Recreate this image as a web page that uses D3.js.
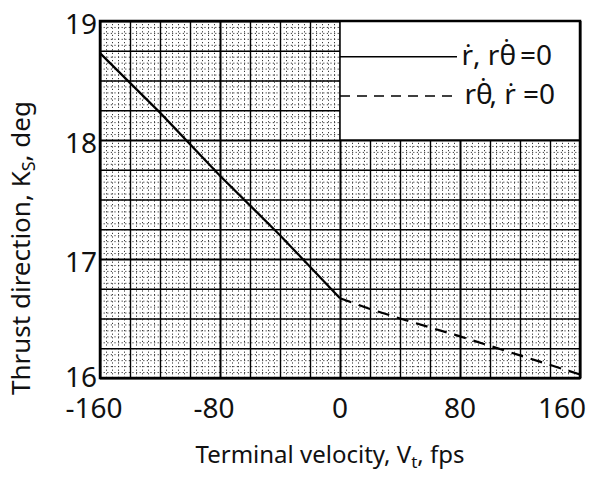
<!DOCTYPE html>
<html>
<head>
<meta charset="utf-8">
<script src="https://cdn.jsdelivr.net/npm/d3@7"></script>
<style>
  body { margin: 0; background: #fff; }
  svg text { font-family: "Noto Sans", "DejaVu Sans", sans-serif; fill: #111; }
</style>
</head>
<body>
<script>
var width = 609;
var height = 478;

var margin = {top: 21, left: 100, right: 29, bottom: 100};

// data
var velocity   = [-160, -140, -120, -80, -40, 0];
var thrustRdot = [18.73, 18.48, 18.23, 17.70, 17.20, 16.67];   // r-dot, r theta-dot = 0

var velocity2   = [0, 20, 40, 80, 120, 160];
var thrustTheta = [16.67, 16.58, 16.50, 16.35, 16.19, 16.03];  // r theta-dot, r-dot = 0

var xTicks = [-160, -80, 0, 80, 160];
var yTicks = [16, 17, 18, 19];

var svg = d3.select("body")
  .append("svg")
  .attr("width", width)
  .attr("height", height);

var xScale = d3.scaleLinear()
  .domain([-160, 160])
  .range([margin.left, width - margin.right]);

var yScale = d3.scaleLinear()
  .domain([16, 19])
  .range([height - margin.bottom, margin.top]);

var plotW = xScale(160) - xScale(-160);
var plotH = yScale(16) - yScale(19);

// graph paper: minor dotted grid
function minorStyle(g) {
  g.select(".domain").remove();
  g.selectAll("line").attr("stroke", "#222").attr("stroke-width", 0.9).attr("stroke-dasharray", "1.2,2.4");
}

svg.append("g")
  .attr("transform", "translate(0," + yScale(16) + ")")
  .call(d3.axisBottom(xScale).tickValues(d3.range(-160, 161, 4)).tickSize(-plotH).tickFormat(""))
  .call(minorStyle);

svg.append("g")
  .attr("transform", "translate(" + xScale(-160) + ",0)")
  .call(d3.axisLeft(yScale).tickValues(d3.range(0, 61).map(function(i) { return 16 + i * 0.05; })).tickSize(-plotW).tickFormat(""))
  .call(minorStyle);

// major grid
svg.append("g")
  .attr("transform", "translate(0," + yScale(16) + ")")
  .call(d3.axisBottom(xScale).tickValues(d3.range(-160, 161, 20)).tickSize(-plotH).tickFormat(""))
  .call(function(g) {
    g.select(".domain").remove();
    g.selectAll("line").attr("stroke", "#000")
      .attr("stroke-width", function(d) { return d % 80 === 0 ? 2 : 1.4; });
  });

svg.append("g")
  .attr("transform", "translate(" + xScale(-160) + ",0)")
  .call(d3.axisLeft(yScale).tickValues(d3.range(0, 13).map(function(i) { return 16 + i * 0.25; })).tickSize(-plotW).tickFormat(""))
  .call(function(g) {
    g.select(".domain").remove();
    g.selectAll("line").attr("stroke", "#000")
      .attr("stroke-width", function(d) { return Math.abs(d - Math.round(d)) < 0.01 ? 2 : 1.4; });
  });

// legend box (white patch in the upper right)
svg.append("rect")
  .attr("x", xScale(0))
  .attr("y", yScale(19))
  .attr("width", xScale(160) - xScale(0))
  .attr("height", yScale(18) - yScale(19))
  .attr("fill", "#fff")
  .attr("stroke", "#000")
  .attr("stroke-width", 1.5);

// frame
svg.append("rect")
  .attr("x", xScale(-160))
  .attr("y", yScale(19))
  .attr("width", plotW)
  .attr("height", plotH)
  .attr("fill", "none")
  .attr("stroke", "#000")
  .attr("stroke-width", 2.5);

// curves
var line = d3.line()
  .x(function(d) { return xScale(d[0]); })
  .y(function(d) { return yScale(d[1]); });

svg.append("path")
  .datum(d3.zip(velocity, thrustRdot))
  .attr("d", line)
  .attr("fill", "none")
  .attr("stroke", "#000")
  .attr("stroke-width", 2.2);

svg.append("path")
  .datum(d3.zip(velocity2, thrustTheta))
  .attr("d", line)
  .attr("fill", "none")
  .attr("stroke", "#000")
  .attr("stroke-width", 2.2)
  .attr("stroke-dasharray", "12,8");

// legend entries
var legend = svg.append("g");
legend.append("line")
  .attr("x1", xScale(0)).attr("x2", xScale(78))
  .attr("y1", yScale(18.70)).attr("y2", yScale(18.70))
  .attr("stroke", "#000").attr("stroke-width", 1.5);
legend.append("line")
  .attr("x1", xScale(0)).attr("x2", xScale(77))
  .attr("y1", yScale(18.37)).attr("y2", yScale(18.37))
  .attr("stroke", "#000").attr("stroke-width", 1.5)
  .attr("stroke-dasharray", "10,7");

// theta with a dot above, built from tspans; rest continues on the baseline
function thetaDot(t, rest) {
  t.append("tspan").text("\u03B8");
  t.append("tspan").attr("dx", "-0.43em").attr("dy", "-0.22em").text("\u02D9");
  t.append("tspan").attr("dx", "0.13em").attr("dy", "0.22em").text(rest);
}

var leg1 = legend.append("text")
  .attr("x", xScale(81)).attr("y", yScale(18.63))
  .attr("font-size", 28);
leg1.append("tspan").text("\u1E59, r");
thetaDot(leg1, " =0");

var leg2 = legend.append("text")
  .attr("x", xScale(83)).attr("y", yScale(18.30))
  .attr("font-size", 28);
leg2.append("tspan").text("r");
thetaDot(leg2, ", \u1E59 =0");

// tick labels
svg.selectAll(".xlab")
  .data(xTicks)
  .enter()
  .append("text")
  .attr("class", "xlab")
  .attr("x", function(d) { return xScale(d) + (d < 0 ? -6 : 0) + (d === 160 ? -18 : 0); })
  .attr("y", yScale(16) + 40)
  .attr("text-anchor", "middle")
  .attr("font-size", 28)
  .text(function(d) { return d < 0 ? "-" + Math.abs(d) : d; });

svg.selectAll(".ylab")
  .data(yTicks)
  .enter()
  .append("text")
  .attr("class", "ylab")
  .attr("x", xScale(-160) - 3)
  .attr("y", function(d) { return yScale(d) + (d === 16 ? 9 : 13); })
  .attr("text-anchor", "end")
  .attr("font-size", 28)
  .text(function(d) { return d; });

// axis titles
var xTitle = svg.append("text")
  .attr("x", 330)
  .attr("y", 463)
  .attr("text-anchor", "middle")
  .attr("font-size", 24);
xTitle.append("tspan").text("Terminal velocity, V");
xTitle.append("tspan").attr("font-size", 17).attr("dy", 5).text("t");
xTitle.append("tspan").attr("dy", -5).text(", fps");

var yTitle = svg.append("text")
  .attr("transform", "translate(30,248) rotate(-90)")
  .attr("text-anchor", "middle")
  .attr("font-size", 26);
yTitle.append("tspan").text("Thrust direction, K");
yTitle.append("tspan").attr("font-size", 18).attr("dy", 5).text("S");
yTitle.append("tspan").attr("dy", -5).text(", deg");
</script>
</body>
</html>
